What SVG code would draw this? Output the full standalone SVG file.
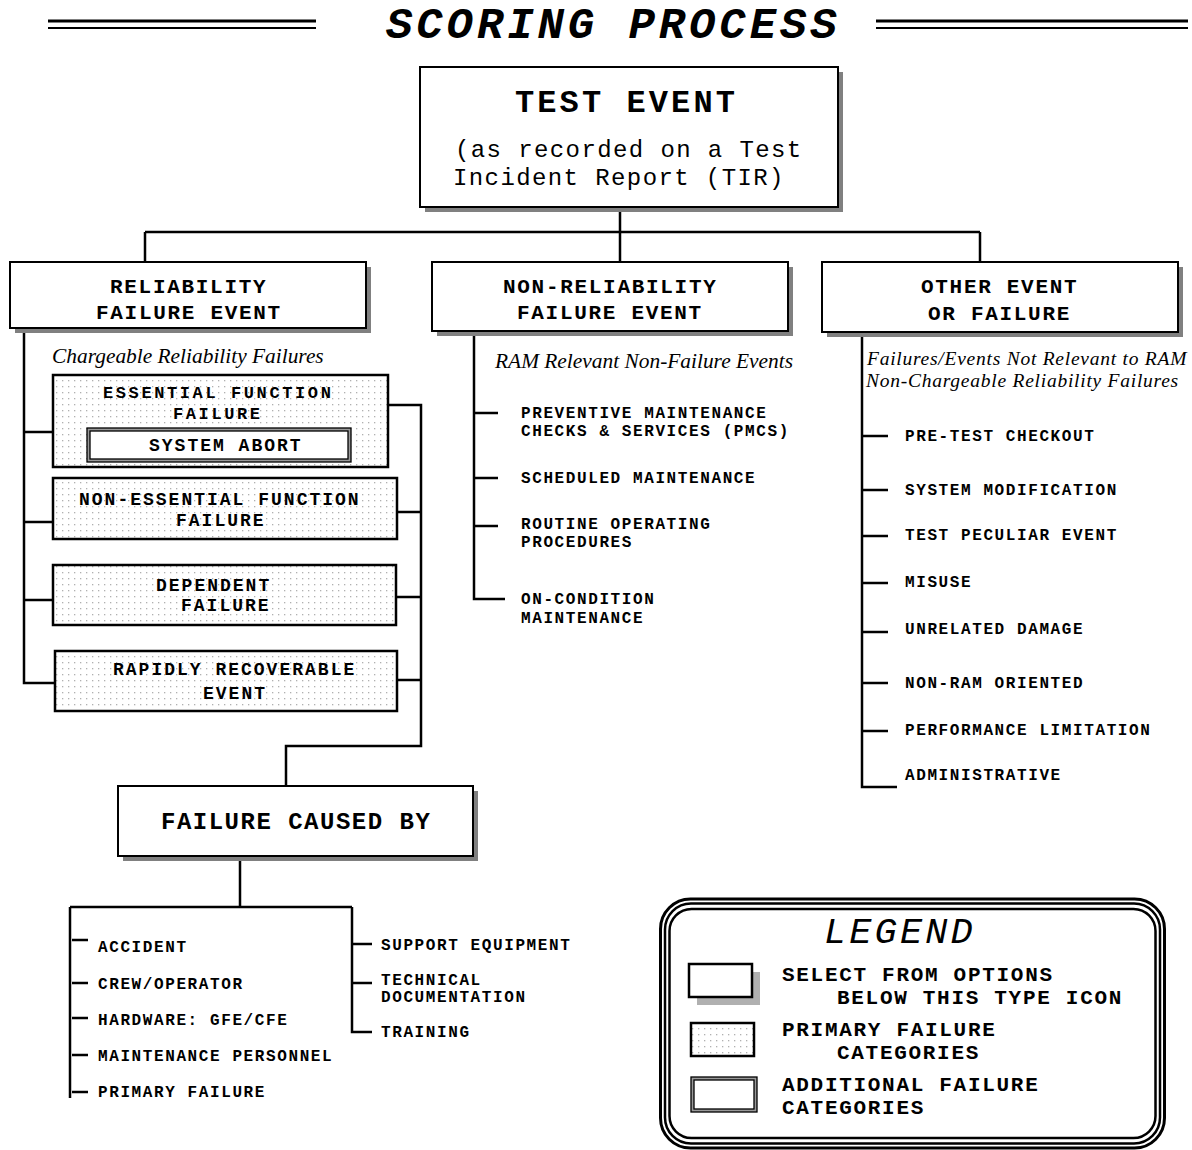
<svg xmlns="http://www.w3.org/2000/svg" width="1192" height="1150" viewBox="0 0 1192 1150">
<defs>
<pattern id="dots" x="0" y="0" width="6" height="6" patternUnits="userSpaceOnUse">
<rect width="6" height="6" fill="#fff"/>
<rect x="2" y="2" width="1.3" height="1.3" fill="#b0b0b0"/>
</pattern>
<style>
.box{fill:#fff;stroke:#000;stroke-width:2}
.sh{fill:#808080}
.dot{fill:url(#dots);stroke:#000;stroke-width:2.5}
.ln{stroke:#000;stroke-width:2.5;fill:none}
.m{font-family:"Liberation Mono","Courier New",monospace;font-weight:bold;fill:#000}
.title{font-size:44px;font-style:italic;letter-spacing:3.9px}
.tt{font-size:32px;letter-spacing:3.1px}
.ts{font-size:24px;font-weight:normal;letter-spacing:1.4px}
.h{font-size:21px;letter-spacing:1.7px}
.d{font-size:18px;letter-spacing:2px}
.e{font-size:17px;letter-spacing:2.6px}
.fc{font-size:24px;letter-spacing:1.5px}
.s{font-size:16px;letter-spacing:1.6px}
.lg{font-size:21px;letter-spacing:1.7px}
.leg{font-size:37px;font-weight:normal;font-style:italic;letter-spacing:3.1px}
.it{font-family:"Liberation Serif","Times New Roman",serif;font-style:italic;font-size:21.4px;fill:#000}
.it2{font-family:"Liberation Serif","Times New Roman",serif;font-style:italic;font-size:19.5px;letter-spacing:0.75px;fill:#000}
</style>
</defs>
<rect width="1192" height="1150" fill="#fff"/>

<g id="title">
<line x1="48" y1="21" x2="316" y2="21" stroke="#000" stroke-width="3"/>
<line x1="48" y1="28" x2="316" y2="28" stroke="#000" stroke-width="2"/>
<line x1="876" y1="21" x2="1188" y2="21" stroke="#000" stroke-width="3"/>
<line x1="876" y1="28" x2="1188" y2="28" stroke="#000" stroke-width="2"/>
<text class="m title" x="386" y="38">SCORING PROCESS</text>
</g>

<g id="connectors">
<path class="ln" d="M620 207 V232 M145 232 H980 M145 232 V262 M620 232 V262 M980 232 V262"/>
<path class="ln" d="M24 328 V683 H55 M24 432 H53 M24 522 H53 M24 600 H53"/>
<path class="ln" d="M388 405 H421 V746 H286 V786 M397 512 H421 M397 597 H421 M397 680 H421"/>
<path class="ln" d="M474 331 V599 H505 M474 413 H498 M474 478 H498 M474 526 H498"/>
<path class="ln" d="M862 332 V787 H897 M862 436 H888 M862 490 H888 M862 536 H888 M862 583 H888 M862 632 H888 M862 683 H888 M862 731 H888"/>
<path class="ln" d="M240 856 V907 M70 907 H352 M70 907 V1098 M352 907 V1032 H372 M72 940 H88 M72 983 H88 M72 1018 H88 M72 1055 H88 M72 1092 H88 M352 944 H372 M352 983 H372"/>
</g>

<g id="test-event">
<rect class="sh" x="425" y="72" width="418" height="140"/>
<rect class="box" x="420" y="67" width="418" height="140"/>
<text class="m tt" x="515" y="112">TEST EVENT</text>
<text class="m ts" x="455" y="157">(as recorded on a Test</text>
<text class="m ts" x="453" y="185">Incident Report (TIR)</text>
</g>

<g id="reliability">
<rect class="sh" x="15" y="267" width="356" height="66"/>
<rect class="box" x="10" y="262" width="356" height="66"/>
<text class="m h" x="110" y="293">RELIABILITY</text>
<text class="m h" x="96" y="319">FAILURE EVENT</text>
</g>

<g id="non-reliability">
<rect class="sh" x="437" y="267" width="356" height="69"/>
<rect class="box" x="432" y="262" width="356" height="69"/>
<text class="m h" x="503" y="293">NON-RELIABILITY</text>
<text class="m h" x="517" y="319">FAILURE EVENT</text>
</g>

<g id="other">
<rect class="sh" x="827" y="267" width="356" height="70"/>
<rect class="box" x="822" y="262" width="356" height="70"/>
<text class="m h" x="921" y="293">OTHER EVENT</text>
<text class="m h" x="928" y="320">OR FAILURE</text>
</g>

<g id="labels">
<text class="it" x="52" y="363">Chargeable Reliability Failures</text>
<text class="it" x="495" y="368">RAM Relevant Non-Failure Events</text>
<text class="it2" x="867" y="365">Failures/Events Not Relevant to RAM</text>
<text class="it2" x="866" y="387">Non-Chargeable Reliability Failures</text>
</g>

<g id="essential">
<rect class="dot" x="53" y="375" width="335" height="92"/>
<text class="m e" x="103" y="398">ESSENTIAL FUNCTION</text>
<text class="m e" x="173" y="419">FAILURE</text>
</g>
<g id="system-abort">
<rect x="87" y="428" width="264" height="34" fill="#999" stroke="#000" stroke-width="1.3"/>
<rect x="90" y="431" width="258" height="28" fill="#fff" stroke="#000" stroke-width="1.3"/>
<text class="m d" x="149" y="451">SYSTEM ABORT</text>
</g>
<g id="non-essential">
<rect class="dot" x="53" y="478" width="344" height="61"/>
<text class="m d" x="79" y="505">NON-ESSENTIAL FUNCTION</text>
<text class="m d" x="176" y="526">FAILURE</text>
</g>
<g id="dependent">
<rect class="dot" x="53" y="565" width="343" height="60"/>
<text class="m d" x="156" y="591">DEPENDENT</text>
<text class="m d" x="181" y="611">FAILURE</text>
</g>
<g id="rapidly">
<rect class="dot" x="55" y="651" width="342" height="60"/>
<text class="m d" x="113" y="675">RAPIDLY RECOVERABLE</text>
<text class="m d" x="203" y="699">EVENT</text>
</g>

<g id="failure-caused-by">
<rect class="sh" x="123" y="791" width="355" height="70"/>
<rect class="box" x="118" y="786" width="355" height="70"/>
<text class="m fc" x="161" y="829">FAILURE CAUSED BY</text>
</g>

<g id="non-rel-items">
<text class="m s" x="521" y="418">PREVENTIVE MAINTENANCE</text>
<text class="m s" x="521" y="436">CHECKS &amp; SERVICES (PMCS)</text>
<text class="m s" x="521" y="483">SCHEDULED MAINTENANCE</text>
<text class="m s" x="521" y="529">ROUTINE OPERATING</text>
<text class="m s" x="521" y="547">PROCEDURES</text>
<text class="m s" x="521" y="604">ON-CONDITION</text>
<text class="m s" x="521" y="623">MAINTENANCE</text>
</g>

<g id="other-items">
<text class="m s" x="905" y="441">PRE-TEST CHECKOUT</text>
<text class="m s" x="905" y="495">SYSTEM MODIFICATION</text>
<text class="m s" x="905" y="540">TEST PECULIAR EVENT</text>
<text class="m s" x="905" y="587">MISUSE</text>
<text class="m s" x="905" y="634">UNRELATED DAMAGE</text>
<text class="m s" x="905" y="688">NON-RAM ORIENTED</text>
<text class="m s" x="905" y="735">PERFORMANCE LIMITATION</text>
<text class="m s" x="905" y="780">ADMINISTRATIVE</text>
</g>

<g id="cause-items">
<text class="m s" x="98" y="952">ACCIDENT</text>
<text class="m s" x="98" y="989">CREW/OPERATOR</text>
<text class="m s" x="98" y="1025">HARDWARE: GFE/CFE</text>
<text class="m s" x="98" y="1061">MAINTENANCE PERSONNEL</text>
<text class="m s" x="98" y="1097">PRIMARY FAILURE</text>
<text class="m s" x="381" y="950">SUPPORT EQUIPMENT</text>
<text class="m s" x="381" y="985">TECHNICAL</text>
<text class="m s" x="381" y="1002">DOCUMENTATION</text>
<text class="m s" x="381" y="1037">TRAINING</text>
</g>

<g id="legend">
<rect x="660.5" y="899" width="504" height="249" rx="30" fill="#fff" stroke="#000" stroke-width="3"/>
<rect x="665" y="903.5" width="495" height="240" rx="26" fill="none" stroke="#000" stroke-width="2.5"/>
<rect x="669.5" y="909" width="486" height="229" rx="22" fill="none" stroke="#000" stroke-width="2.5"/>
<text class="m leg" x="824" y="943">LEGEND</text>
<rect x="697" y="972" width="63" height="33" fill="#b0b0b0"/>
<rect x="689" y="964" width="63" height="33" fill="#fff" stroke="#000" stroke-width="2.5"/>
<rect class="dot" x="691" y="1023" width="63" height="33"/>
<rect x="691" y="1077" width="66" height="35" fill="#999" stroke="#000" stroke-width="1.3"/>
<rect x="694" y="1080" width="60" height="29" fill="#fff" stroke="#000" stroke-width="1.3"/>
<text class="m lg" x="782" y="981">SELECT FROM OPTIONS</text>
<text class="m lg" x="837" y="1004">BELOW THIS TYPE ICON</text>
<text class="m lg" x="782" y="1036">PRIMARY FAILURE</text>
<text class="m lg" x="837" y="1059">CATEGORIES</text>
<text class="m lg" x="782" y="1091">ADDITIONAL FAILURE</text>
<text class="m lg" x="782" y="1114">CATEGORIES</text>
</g>
</svg>
